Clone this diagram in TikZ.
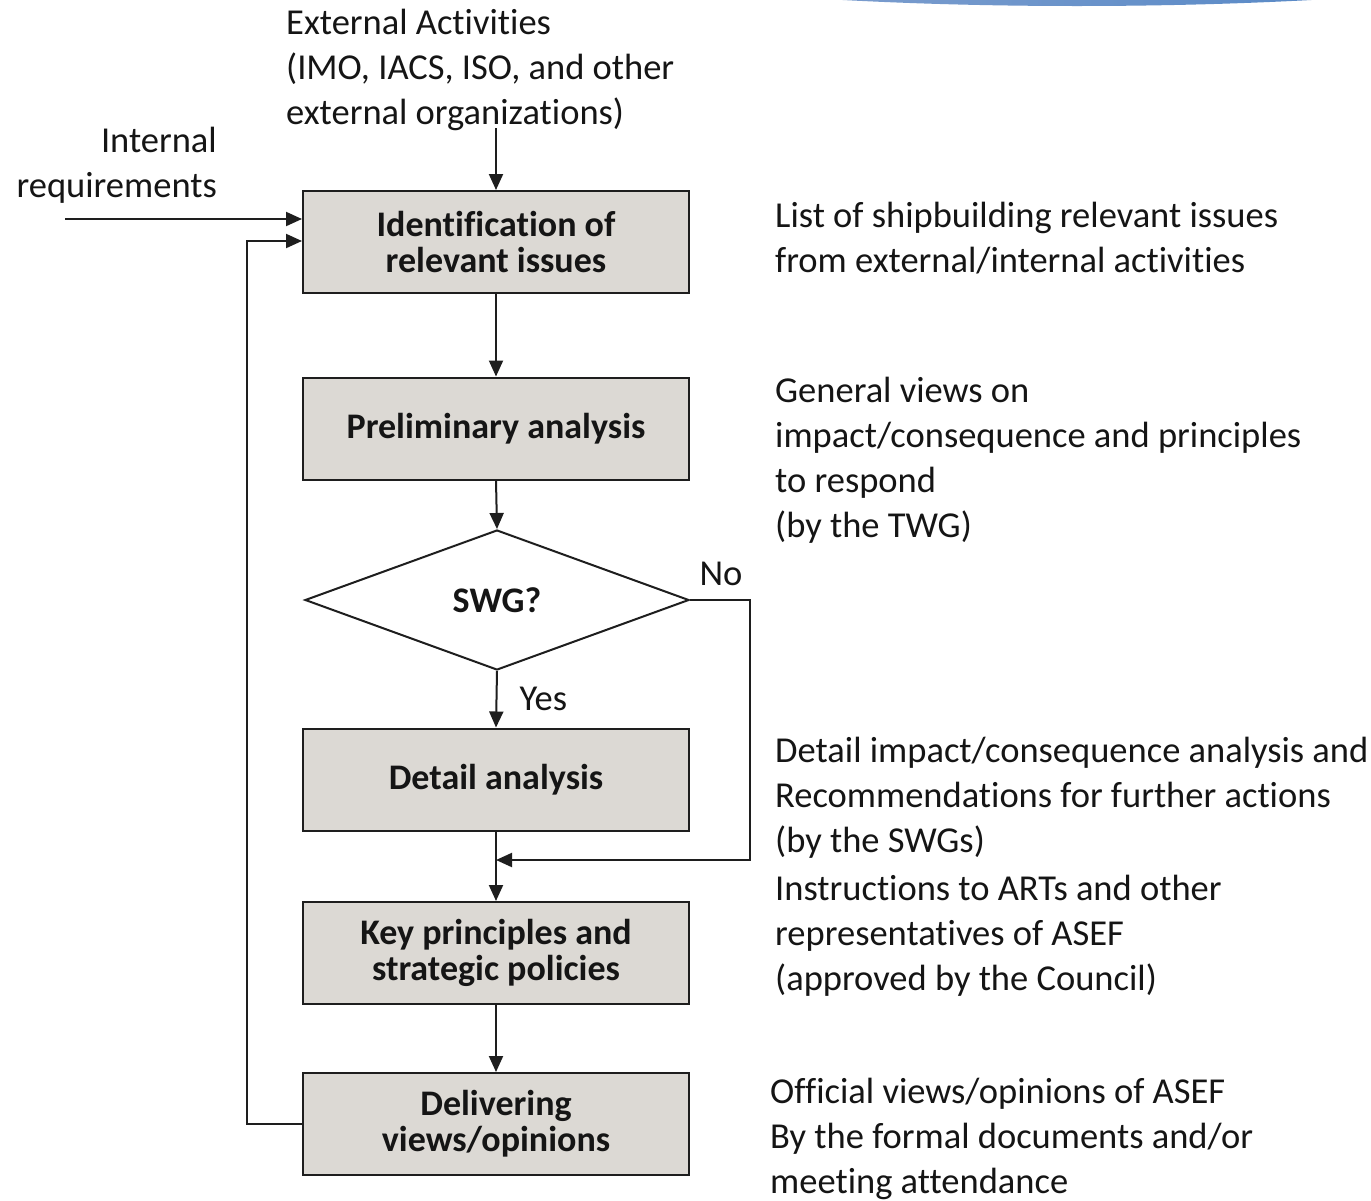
\documentclass[tikz,border=0pt]{standalone}
\usepackage{fontspec}
\setmainfont{Carlito}[Ligatures={NoCommon,NoContextual}]
\usetikzlibrary{shapes.geometric,arrows.meta,calc}
\definecolor{boxfill}{HTML}{DCD9D4}
\definecolor{txt}{HTML}{151515}
\definecolor{ln}{HTML}{1E1E1E}
\definecolor{blueL}{HTML}{9AAED4}
\definecolor{blueR}{HTML}{3A78C0}
\tikzset{
  stepbox/.style={draw=ln, line width=2pt, fill=boxfill, minimum width=386pt, minimum height=102pt,
    inner sep=0pt, align=center, text=txt, font=\fontsize{36}{36}\bfseries\selectfont},
  decbox/.style={draw=ln, line width=2pt, fill=white, diamond, minimum width=384pt, minimum height=140pt,
    aspect=2.74, inner sep=0pt, text=txt, font=\fontsize{36}{36}\bfseries\selectfont},
  note/.style={anchor=base west, inner sep=0pt, align=left, text=txt, font=\fontsize{36.5}{45}\selectfont},
  lbl/.style={inner sep=0pt, text=txt, font=\fontsize{36.5}{45}\selectfont},
  arr/.style={draw=ln, line width=2pt, -{Triangle[length=16pt,width=14pt]}},
  plain/.style={draw=ln, line width=2pt}
}
\begin{document}
\begin{tikzpicture}[x=1pt,y=-1pt]
\useasboundingbox (0,0) rectangle (1371,1200);
\fill[white] (0,0) rectangle (1371,1200);
% decorative blue band at top right
\begin{scope}
\clip (0,0) rectangle (1371,1200);
\shade[left color=blueL, right color=blueR] (1077,-100) ellipse [x radius=705, y radius=106];
\end{scope}

% boxes
\node[stepbox] (b1) at (496,242) {Identification of\\relevant issues};
\node[stepbox] (b2) at (496,428.5) {Preliminary analysis};
\node[decbox] (d) at (497,600) {SWG?};
\node[stepbox] (b3) at (496,779.5) {Detail analysis};
\node[stepbox] (b4) at (496,953) {Key principles and\\strategic policies};
\node[stepbox] (b5) at (496,1124) {Delivering\\views/opinions};

% input texts (anchor = baseline of last line)
\node[note] (ext) at (286,124) {External Activities\\(IMO, IACS, ISO, and other\\external organizations)};
\node[note, anchor=base east, align=right] (int) at (217,197) {Internal\\requirements};

% side notes
\node[note] (n1) at (775,272) {List of shipbuilding relevant issues\\from external/internal activities};
\node[note] (n2) at (775,537) {General views on\\impact/consequence and principles\\to respond\\(by the TWG)};
\node[note] (n3) at (775,852) {Detail impact/consequence analysis and\\Recommendations for further actions\\(by the SWGs)};
\node[note] (n4) at (775,990) {Instructions to ARTs and other\\representatives of ASEF\\(approved by the Council)};
\node[note] (n5) at (770,1193) {Official views/opinions of ASEF\\By the formal documents and/or\\meeting attendance};

% connectors
\coordinate (extend) at (496,128);
\coordinate (intstart) at (65,219);
\coordinate (merge) at (496,860);
\draw[arr] (extend) -- (b1.north);
\draw[arr] (intstart) -- (intstart -| b1.west);
\draw[arr] (b5.west) -- ++(-55,0) |- ($(b1.west)+(0,-1)$);
\draw[arr] (b1.south) -- (b2.north);
\draw[arr] (b2.south) -- (d.north);
\draw[arr] (d.south) -- node[lbl, right=22pt, pos=0.5] (yes) {Yes} (b3.north);
\draw[arr] (d.east) -- ++(60,0) |- (merge);
\node[lbl] (no) at (721,574) {No};
\draw[arr] (b3.south) -- (b4.north);
\draw[arr] (b4.south) -- (b5.north);
\end{tikzpicture}
\end{document}
